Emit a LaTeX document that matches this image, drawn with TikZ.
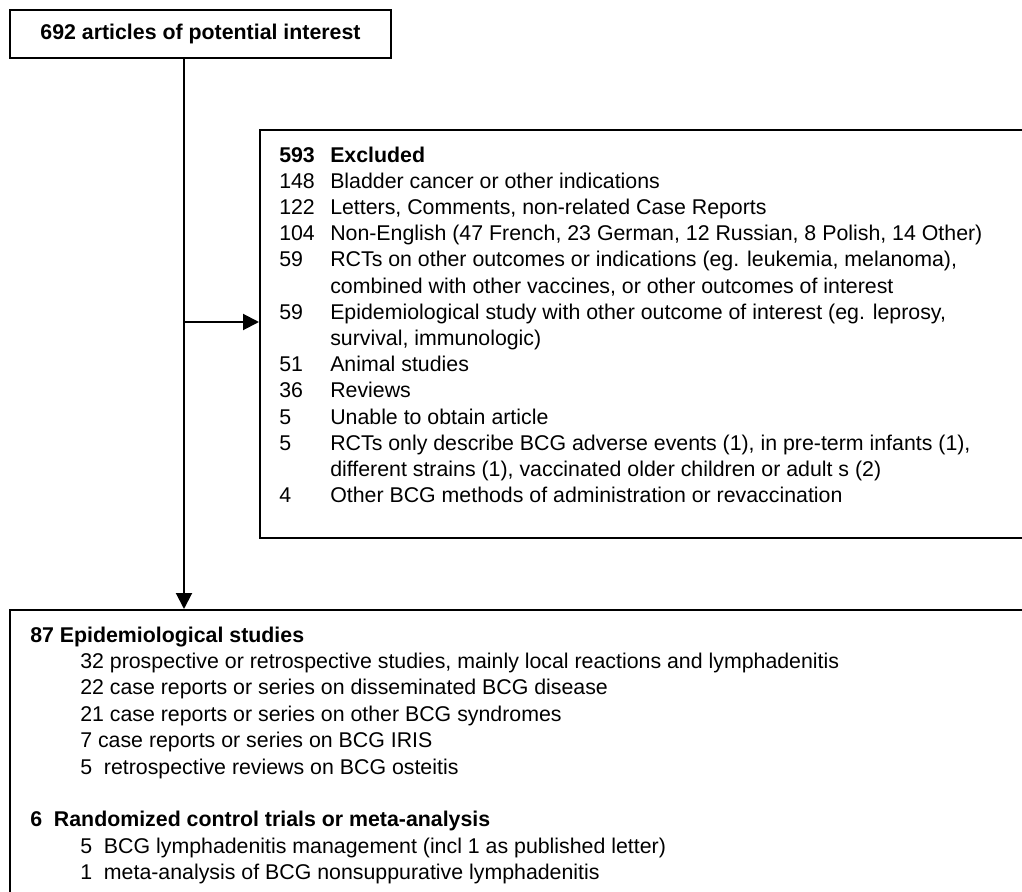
\documentclass[tikz,border=0pt]{standalone}
\usepackage{fontspec}
\setmainfont{Liberation Sans}
\usetikzlibrary{arrows.meta}
\tikzset{
  box/.style={draw, line width=1.5pt, anchor=north west, inner sep=0pt},
  item/.style={anchor=base west, inner sep=0pt, font=\fontsize{16pt}{19pt}\selectfont},
  head/.style={item, font=\fontsize{16pt}{19pt}\selectfont\bfseries},
  link/.style={line width=1.5pt, -{Triangle[length=12pt, width=12pt]}}
}
\begin{document}
\begin{tikzpicture}[x=0.75pt, y=-0.75pt]
  \useasboundingbox (0,0) rectangle (1022,892);
  \clip (0,0) rectangle (1022,892);
  % The three boxes
  \node [box, minimum width=285.75pt, minimum height=36pt,
    font=\fontsize{16pt}{19pt}\selectfont\bfseries] (found) at (9,9)
    {692 articles of potential interest};
  \node [box, minimum width=585.75pt, minimum height=306pt] (excl) at (259,129) {};
  \node [box, minimum width=773.25pt, minimum height=230pt] (incl) at (9,609) {};
  % Excluded articles: numbers, then reasons
  \node [head] (exn0) at (279,162) {593};
  \node [head] (ext0) at (330,162) {Excluded};
  \foreach \k/\n in {1/148, 2/122, 3/104, 4/59, 6/59, 8/51, 9/36, 10/5, 11/5, 13/4} {
    \node [item] (exn\k) at (279, {162+26.2*\k}) {\n};
  }
  \foreach \k/\t in {
    1/{Bladder cancer or other indications},
    2/{Letters, Comments, non-related Case Reports},
    3/{Non-English (47 French, 23 German, 12 Russian, 8 Polish, 14 Other)},
    4/{RCTs on other outcomes or indications (eg. leukemia, melanoma),},
    5/{combined with other vaccines, or other outcomes of interest},
    6/{Epidemiological study with other outcome of interest (eg. leprosy,},
    7/{survival, immunologic)},
    8/{Animal studies},
    9/{Reviews},
    10/{Unable to obtain article},
    11/{RCTs only describe BCG adverse events (1), in pre-term infants (1),},
    12/{different strains (1), vaccinated older children or adult s (2)},
    13/{Other BCG methods of administration or revaccination}} {
    \node [item] (ext\k) at (330, {162+26.2*\k}) {\t};
  }
  % Included studies
  \node [head] (epi) at (30,642) {87 Epidemiological studies};
  \foreach \k/\t in {
    1/{32 prospective or retrospective studies, mainly local reactions and lymphadenitis},
    2/{22 case reports or series on disseminated BCG disease},
    3/{21 case reports or series on other BCG syndromes},
    4/{7 case reports or series on BCG IRIS},
    5/{5\ \ retrospective reviews on BCG osteitis}} {
    \node [item] (epi\k) at (80, {642+26.4*\k}) {\t};
  }
  \node [head] (rct) at (30, {642+26.4*7}) {6\ \ Randomized control trials or meta-analysis};
  \foreach \k/\t in {
    8/{5\ \ BCG lymphadenitis management (incl 1 as published letter)},
    9/{1\ \ meta-analysis of BCG nonsuppurative lymphadenitis}} {
    \node [item] (rct\k) at (80, {642+26.4*\k}) {\t};
  }
  % Flow lines
  \coordinate (split) at (184,322);
  \draw [link] (found.south -| split) -- (incl.north -| split);
  \draw [link] (split) -- (excl.west |- split);
\end{tikzpicture}
\end{document}
